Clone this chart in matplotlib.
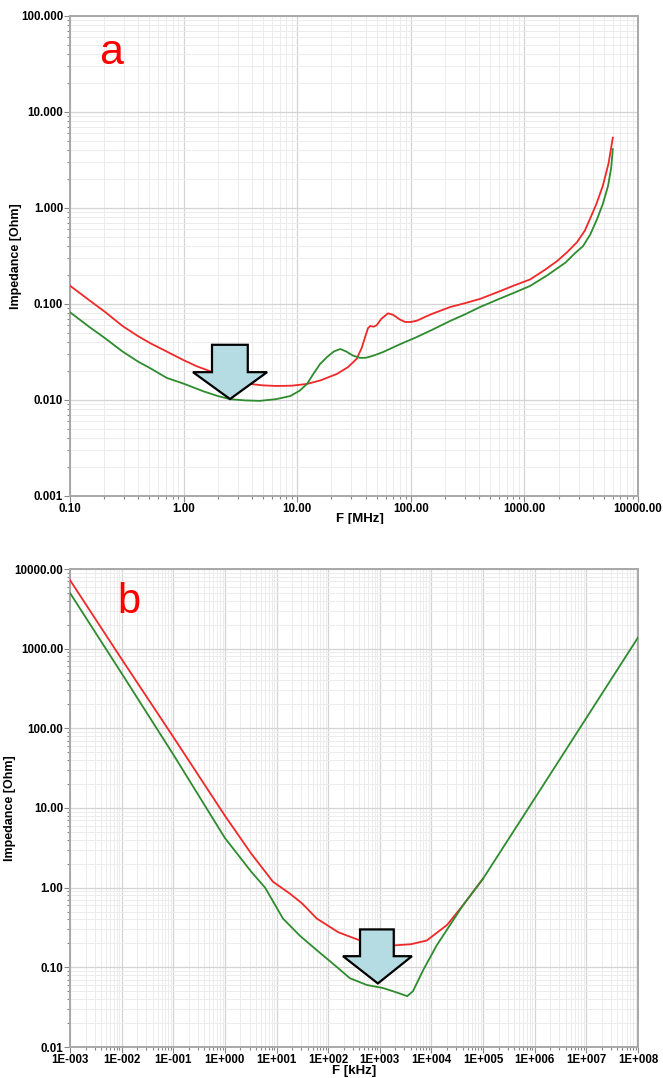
import numpy as np
import matplotlib
matplotlib.use("Agg")
import matplotlib.pyplot as plt
from matplotlib.patches import Polygon, Rectangle
from matplotlib.ticker import FixedLocator, LogLocator, NullFormatter, FuncFormatter

# ---- panel a : impedance vs frequency [MHz] ----
a_red_f = [0.1, 0.15, 0.2, 0.29, 0.4, 0.51, 0.71, 1.0, 1.3, 1.7, 2.5, 3.85, 5.0, 6.6, 9.0,
           12.2, 16, 22.4, 28, 33.5, 37, 40, 42, 44, 47, 50, 55, 63, 70, 80, 89, 100, 113,
           150, 222, 300, 407, 610, 800, 1120, 1500, 1940, 2400, 2900, 3400, 3780, 4300,
           4900, 5500, 6000]
a_red_z = [0.155, 0.108, 0.084, 0.059, 0.046, 0.039, 0.032, 0.026, 0.0225, 0.020, 0.0168,
           0.0147, 0.0142, 0.014, 0.0141, 0.0147, 0.016, 0.0187, 0.022, 0.027, 0.035, 0.047,
           0.056, 0.059, 0.058, 0.060, 0.070, 0.080, 0.077, 0.069, 0.065, 0.065, 0.067,
           0.078, 0.093, 0.102, 0.113, 0.136, 0.155, 0.18, 0.225, 0.28, 0.35, 0.44, 0.58,
           0.77, 1.1, 1.7, 2.9, 5.4]

a_grn_f = [0.1, 0.15, 0.2, 0.29, 0.4, 0.51, 0.71, 1.0, 1.5, 2.0, 2.56, 3.5, 4.7, 6.5, 8.7,
           10.5, 12.2, 14, 15.9, 18.3, 21, 23.9, 27, 31, 35.6, 40, 47, 57, 80, 113, 160,
           222, 300, 407, 600, 800, 1120, 1600, 2300, 2800, 3280, 3800, 4370, 4900, 5450,
           5800, 6000]
a_grn_z = [0.082, 0.057, 0.0447, 0.032, 0.025, 0.0214, 0.017, 0.0148, 0.0123, 0.011, 0.0102,
           0.0099, 0.0098, 0.0102, 0.011, 0.0125, 0.0147, 0.019, 0.0237, 0.028, 0.032, 0.034,
           0.032, 0.029, 0.0275, 0.0275, 0.029, 0.0316, 0.038, 0.0453, 0.055, 0.0666, 0.078,
           0.093, 0.113, 0.13, 0.154, 0.2, 0.27, 0.34, 0.40, 0.53, 0.77, 1.1, 1.7, 2.6, 4.1]

# ---- panel b : impedance vs frequency [kHz] ----
b_red_f = [1e-3, 1e-2, 1e-1, 1e0, 3.2, 8.5, 18.2, 31.6, 60, 158, 417, 1000, 1780, 4000,
           8100, 20000, 40700, 100000]
b_red_z = [7250, 740, 78, 8.0, 2.7, 1.19, 0.84, 0.63, 0.41, 0.275, 0.217, 0.195, 0.188,
           0.195, 0.217, 0.34, 0.60, 1.3]

b_grn_f = [1e-3, 1e-2, 1e-1, 1e0, 3.2, 6.0, 13.3, 28.2, 63, 126, 263, 562, 1150, 2000,
           3390, 4370, 7080, 12600, 40700, 1e5, 1e6, 1e7, 1e8]
b_grn_z = [5000, 490, 47, 4.2, 1.6, 1.0, 0.41, 0.25, 0.16, 0.11, 0.073, 0.060, 0.055,
           0.049, 0.0435, 0.050, 0.095, 0.188, 0.60, 1.3, 13.2, 135, 1380]

RED = "#f02828"
GREEN = "#2e8b2e"
FONT = "Liberation Sans"

W, H = 663, 1078
fig = plt.figure(figsize=(W / 100, H / 100), dpi=100)


def px_axes(x0, y0, x1, y1):
    return fig.add_axes([x0 / W, 1 - y1 / H, (x1 - x0) / W, (y1 - y0) / H])


def style(ax, yfmt, xfmt, xlocs, ylocs):
    ax.set_xscale("log")
    ax.set_yscale("log")
    ax.xaxis.set_major_locator(FixedLocator(xlocs))
    ax.yaxis.set_major_locator(FixedLocator(ylocs))
    ax.xaxis.set_minor_locator(LogLocator(base=10, subs=np.arange(2, 10), numticks=50))
    ax.yaxis.set_minor_locator(LogLocator(base=10, subs=np.arange(2, 10), numticks=50))
    ax.xaxis.set_minor_formatter(NullFormatter())
    ax.yaxis.set_minor_formatter(NullFormatter())
    ax.xaxis.set_major_formatter(FuncFormatter(xfmt))
    ax.yaxis.set_major_formatter(FuncFormatter(yfmt))
    ax.grid(which="major", color="#d4d4d4", lw=0.9)
    ax.grid(which="minor", color="#ececec", lw=0.7)
    ax.set_axisbelow(True)
    for s in ax.spines.values():
        s.set_color("#a8a8a8")
        s.set_linewidth(1.4)
    ax.tick_params(which="both", direction="out", color="#888888", width=0.8,
                   top=False, right=False)
    ax.tick_params(which="major", length=4, pad=1)
    ax.tick_params(which="minor", length=2)
    for lab in ax.get_xticklabels() + ax.get_yticklabels():
        lab.set_fontfamily(FONT)
        lab.set_fontstretch("condensed")
        lab.set_fontweight("bold")
        lab.set_fontsize(8.3)


def arrow(ax, xs, ys):
    pts = list(zip(xs, ys))
    ax.add_patch(Polygon(pts, closed=True, transform=ax.transAxes, facecolor="#b4dce2",
                         edgecolor="black", lw=1.6, zorder=5, joinstyle="miter"))


# panel a
ax1 = px_axes(70, 16, 638, 496)
ax1.plot(a_red_f, a_red_z, color=RED, lw=1.3, zorder=3)
ax1.plot(a_grn_f, a_grn_z, color=GREEN, lw=1.3, zorder=3)
ax1.set_xlim(0.1, 10000)
ax1.set_ylim(0.001, 100)
style(ax1, lambda v, p: f"{v:.3f}", lambda v, p: f"{v:.2f}",
      [0.1, 1, 10, 100, 1000, 10000], [0.001, 0.01, 0.1, 1, 10, 100])
ax1.set_ylabel("Impedance [Ohm]", fontweight="bold", fontsize=9, family=FONT)
ax1.yaxis.set_label_coords(-0.085, 0.5)
ax1.text(0.072, 0.922, "a", transform=ax1.transAxes, color="red", fontsize=31,
         family=FONT, ha="center", va="center")
arrow(ax1, [0.250, 0.313, 0.313, 0.347, 0.2817, 0.2165, 0.250],
      [0.315, 0.315, 0.258, 0.258, 0.202, 0.258, 0.258])
fig.text(360 / W, 1 - 513 / H, "F [MHz]", ha="center", va="top", fontweight="bold",
         fontsize=9.5, family=FONT)
# the source image is cut just under the axis title
fig.patches.append(Rectangle((0, 1 - 545 / H), 1, 21 / H, transform=fig.transFigure,
                             facecolor="white", edgecolor="none", zorder=10))

# panel b
ax2 = px_axes(70, 569, 638, 1047)
ax2.plot(b_red_f, b_red_z, color=RED, lw=1.3, zorder=3)
ax2.plot(b_grn_f, b_grn_z, color=GREEN, lw=1.3, zorder=3)
ax2.set_xlim(1e-3, 1e8)
ax2.set_ylim(0.01, 10000)
style(ax2, lambda v, p: f"{v:.2f}",
      lambda v, p: f"1E{int(round(np.log10(v))):+04d}",
      [10.0 ** k for k in range(-3, 9)], [0.01, 0.1, 1, 10, 100, 1000, 10000])
ax2.set_ylabel("Impedance [Ohm]", fontweight="bold", fontsize=9, family=FONT)
ax2.yaxis.set_label_coords(-0.095, 0.5)
ax2.set_xlabel("F [kHz]", fontweight="bold", fontsize=9.5, family=FONT, labelpad=-1)
ax2.text(0.103, 0.93, "b", transform=ax2.transAxes, color="red", fontsize=30,
         family=FONT, ha="center", va="center")
arrow(ax2, [0.5106, 0.570, 0.570, 0.602, 0.542, 0.4806, 0.5106],
      [0.246, 0.246, 0.190, 0.190, 0.133, 0.190, 0.190])

fig.savefig("out.png", dpi=100, facecolor="white")
